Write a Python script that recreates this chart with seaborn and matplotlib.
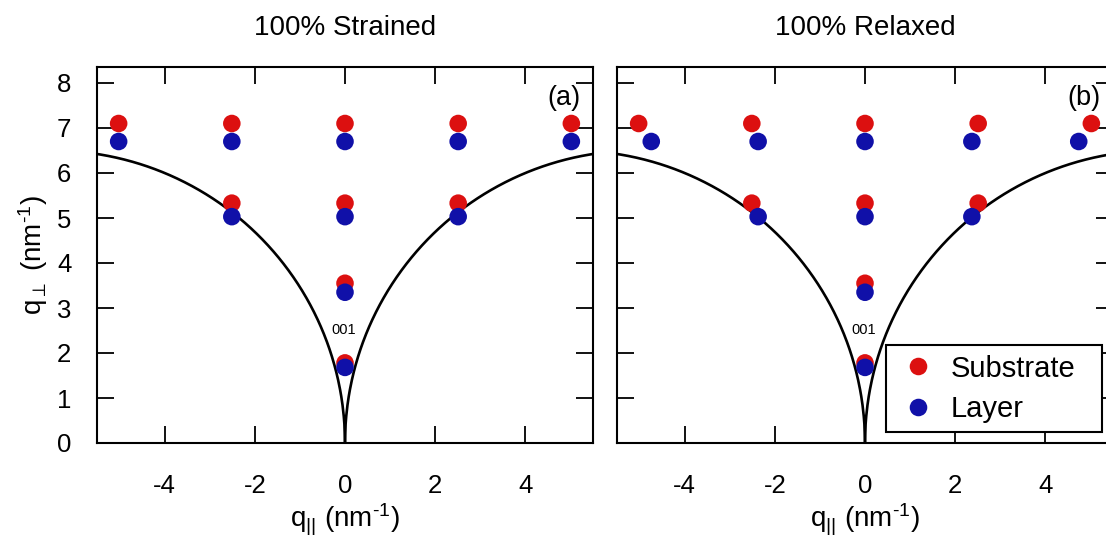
import numpy as np
import pandas as pd
import matplotlib
matplotlib.use("Agg")
import matplotlib.pyplot as plt
import seaborn as sns

# Reciprocal lattice points (nm^-1)
sub_qpar = [-5.02, -2.51, 0.0, 2.51, 5.02, -2.51, 0.0, 2.51, 0.0, 0.0]
sub_qperp = [7.10, 7.10, 7.10, 7.10, 7.10, 5.33, 5.33, 5.33, 3.55, 1.78]

layer_qperp = [6.70, 6.70, 6.70, 6.70, 6.70, 5.03, 5.03, 5.03, 3.35, 1.68]
layer_qpar_strained = [-5.02, -2.51, 0.0, 2.51, 5.02, -2.51, 0.0, 2.51, 0.0, 0.0]
layer_qpar_relaxed = [-4.74, -2.37, 0.0, 2.37, 4.74, -2.37, 0.0, 2.37, 0.0, 0.0]

panel_titles = ["100% Strained", "100% Relaxed"]
panel_tags = ["(a)", "(b)"]
series_names = ["Substrate", "Layer"]
reflection_label = "001"

# Ewald-sphere limit (wave vector magnitude, nm^-1)
k0 = 6.5

x_ticks = [-4, -2, 0, 2, 4]
y_ticks = [0, 1, 2, 3, 4, 5, 6, 7, 8]

sns.set_theme(style="ticks")
plt.rcParams["font.family"] = ["Liberation Sans", "DejaVu Sans"]
plt.rcParams["mathtext.fontset"] = "custom"
plt.rcParams["mathtext.rm"] = "Liberation Sans"
plt.rcParams["mathtext.it"] = "Liberation Sans"
plt.rcParams["mathtext.sf"] = "Liberation Sans"
plt.rcParams["axes.unicode_minus"] = False
plt.rcParams["text.color"] = "black"
plt.rcParams["axes.labelcolor"] = "black"

colors = {"Substrate": "#dc1010", "Layer": "#1010a8"}

fig = plt.figure(figsize=(11.06, 5.47), dpi=100)
W, H = 1106, 547
ax_w, ax_h = 496 / W, 376 / H
bottom = (H - 443) / H
axes = [fig.add_axes([97 / W, bottom, ax_w, ax_h]),
        fig.add_axes([617 / W, bottom, ax_w, ax_h])]

# boundary curves: circles of radius k0 through the origin
qpar_curve = np.linspace(0, 5.5, 400)
qperp_curve = np.sqrt(np.clip(k0**2 - (k0 - qpar_curve) ** 2, 0, None))

layer_sets = [layer_qpar_strained, layer_qpar_relaxed]
xlab = r"q$_{||}$ (nm$^{\text{-1}}$)"
ylab = r"q$_{\perp}$ (nm$^{\text{-1}}$)"

for i, ax in enumerate(axes):
    df = pd.DataFrame({
        "qpar": list(sub_qpar) + list(layer_sets[i]),
        "qperp": list(sub_qperp) + list(layer_qperp),
        "type": [series_names[0]] * len(sub_qpar) + [series_names[1]] * len(layer_qperp),
    })
    for sign in (-1, 1):
        sns.lineplot(x=sign * qpar_curve, y=qperp_curve, ax=ax, color="black",
                     lw=1.9, sort=False, estimator=None, zorder=2)
    sns.scatterplot(data=df, x="qpar", y="qperp", hue="type", palette=colors,
                    s=160, edgecolor="none", linewidth=0, ax=ax, zorder=3,
                    legend=(i == 1))

    ax.set_xlim(-5.5, 5.5)
    ax.set_ylim(0, 376 / 45)
    ax.set_xticks(x_ticks)
    ax.set_yticks(y_ticks)
    ax.tick_params(direction="in", top=True, right=True, length=12, width=1.3,
                   labelsize=18.5, colors="black")
    ax.tick_params(axis="x", pad=22)
    ax.tick_params(axis="y", pad=18.5)
    for sp in ax.spines.values():
        sp.set_visible(True)
        sp.set_linewidth(1.5)
        sp.set_color("black")
    ax.set_title(panel_titles[i], fontsize=20, pad=23, color="black")
    ax.set_xlabel(xlab, fontsize=20, labelpad=3)
    ax.text(0.974, 0.918, panel_tags[i], transform=ax.transAxes, ha="right",
            va="center", fontsize=19.5)
    ax.text(-0.04, 2.51, reflection_label, ha="center", va="center", fontsize=10.5)

axes[0].set_ylabel(ylab, fontsize=20, labelpad=5)
axes[1].set_ylabel("")
axes[1].tick_params(axis="y", labelleft=False)

leg = axes[1].legend(loc="lower left", bbox_to_anchor=(0.542, 0.029, 0.436, 0.22),
                     mode="expand", borderaxespad=0, fontsize=21, frameon=True,
                     fancybox=False, title=None, markerscale=1.0,
                     handletextpad=0.35, borderpad=0.32, labelspacing=0.42,
                     handlelength=1.55)
leg.get_frame().set_edgecolor("black")
leg.get_frame().set_linewidth(1.5)
leg.get_frame().set_alpha(1)

fig.savefig("out.png", dpi=100)
